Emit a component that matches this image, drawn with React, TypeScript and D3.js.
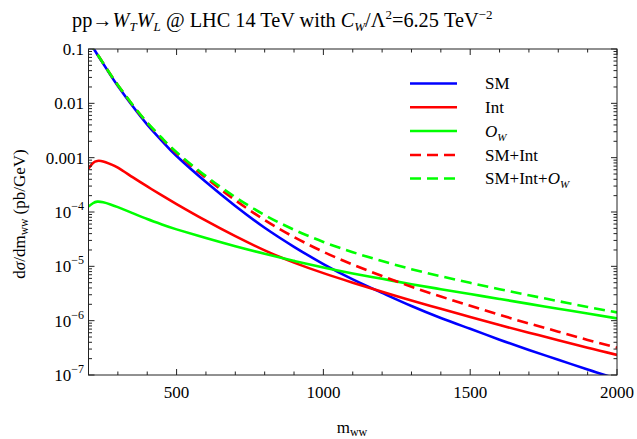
import React from "react";
import * as d3 from "d3";

const mww = [200, 215, 230, 250, 275, 300, 350, 400, 450, 500, 600, 700, 800, 900, 1000, 1100, 1200, 1300, 1400, 1500, 1600, 1700, 1800, 1900, 2000];
const smVals = [0.1445, 0.107, 0.0794, 0.0537, 0.0331, 0.0209, 0.00891, 0.00407, 0.00204, 1.07e-3, 3.55e-4, 1.29e-4, 5.13e-5, 2.29e-5, 1.1e-5, 5.75e-6, 3.24e-6, 1.86e-6, 1.12e-6, 7.08e-7, 4.47e-7, 2.88e-7, 1.91e-7, 1.26e-7, 8.5e-8];
const intVals = [6.31e-4, 7.94e-4, 8.71e-4, 8.51e-4, 7.59e-4, 6.53e-4, 4.37e-4, 2.95e-4, 2.02e-4, 1.4e-4, 6.92e-5, 3.59e-5, 1.97e-5, 1.17e-5, 7.5e-6, 5.01e-6, 3.39e-6, 2.34e-6, 1.66e-6, 1.17e-6, 8.3e-7, 6.0e-7, 4.37e-7, 3.16e-7, 2.34e-7];
const owVals = [1.26e-4, 1.45e-4, 1.55e-4, 1.51e-4, 1.38e-4, 1.23e-4, 9.55e-5, 7.41e-5, 5.89e-5, 4.79e-5, 3.31e-5, 2.34e-5, 1.7e-5, 1.26e-5, 9.55e-6, 7.41e-6, 5.89e-6, 4.68e-6, 3.8e-6, 3.09e-6, 2.51e-6, 2.04e-6, 1.66e-6, 1.35e-6, 1.1e-6];
const smIntVals = [0.1451, 0.1078, 0.0803, 0.0546, 0.0339, 0.0216, 0.00935, 0.00437, 0.00224, 1.21e-3, 4.24e-4, 1.649e-4, 7.1e-5, 3.46e-5, 1.85e-5, 1.076e-5, 6.63e-6, 4.2e-6, 2.78e-6, 1.88e-6, 1.28e-6, 8.88e-7, 6.28e-7, 4.42e-7, 3.19e-7];
const allVals = [0.1452, 0.1079, 0.0805, 0.0548, 0.034, 0.0217, 0.00945, 0.00444, 0.0023, 1.258e-3, 4.57e-4, 1.88e-4, 8.8e-5, 4.72e-5, 2.81e-5, 1.82e-5, 1.25e-5, 8.88e-6, 6.58e-6, 4.97e-6, 3.79e-6, 2.93e-6, 2.29e-6, 1.79e-6, 1.42e-6];

const xMajor = [500, 1000, 1500, 2000];
const yMajor = [0.1, 0.01, 0.001, 1e-4, 1e-5, 1e-6, 1e-7];
const yBase = ["0.1", "0.01", "0.001", "10", "10", "10", "10"];
const yExp = ["", "", "", "−4", "−5", "−6", "−7"];

const seriesNames = ["SM", "Int", "O_W", "SM+Int", "SM+Int+O_W"];
const seriesColors = ["#0000ff", "#ff0000", "#00ff00", "#ff0000", "#00ff00"];
const seriesDashed = [false, false, false, true, true];
const seriesData = [smVals, intVals, owVals, smIntVals, allVals];

const W = 637, H = 439;
const L = 88.5, R = 617, T = 49, B = 375;
const FONT = "'Liberation Serif', 'DejaVu Serif', serif";

export default function App() {
  const x = d3.scaleLinear().domain([200, 2000]).range([L, R]);
  const y = d3.scaleLog().domain([1e-7, 0.1]).range([B, T]);
  const line = d3.line<[number, number]>()
    .x((d) => x(d[0]))
    .y((d) => y(d[1]))
    .curve(d3.curveNatural);

  const xMinor: number[] = d3.range(200, 2001, 100).filter((v) => v % 500 !== 0);
  const yMinor: number[] = [];
  for (let e = -7; e < -1; e++) for (let k = 2; k < 10; k++) yMinor.push(k * Math.pow(10, e));

  const frame = "#222";
  const maj = 6, mnr = 3.5;

  const legendX0 = 410, legendX1 = 457, legendTx = 485;
  const legendY = [83.5, 107.3, 131, 155, 178.5];

  const renderLabel = (name: string) => {
    if (name === "O_W")
      return (<><tspan fontStyle="italic">O</tspan><tspan fontStyle="italic" fontSize="11" dy="4">W</tspan></>);
    if (name === "SM+Int+O_W")
      return (<>SM+Int+<tspan fontStyle="italic">O</tspan><tspan fontStyle="italic" fontSize="11" dy="4">W</tspan></>);
    return name;
  };

  return (
    <svg width={W} height={H} style={{ position: "absolute", left: 0, top: 0, background: "#fff" }} fontFamily={FONT}>
      <defs>
        <clipPath id="plotclip">
          <rect x={L} y={T} width={R - L} height={B - T} />
        </clipPath>
      </defs>
      <rect x={0} y={0} width={W} height={H} fill="#fff" />

      {/* title */}
      <text x={72} y={26.5} fontSize={20.3} fill="#000">
        pp→<tspan fontStyle="italic">W</tspan><tspan fontStyle="italic" fontSize="13" dy="4">T</tspan>
        <tspan fontStyle="italic" dy="-4">W</tspan><tspan fontStyle="italic" fontSize="13" dy="4">L</tspan>
        <tspan dy="-4"> @ LHC 14 TeV with </tspan><tspan fontStyle="italic">C</tspan><tspan fontStyle="italic" fontSize="13" dy="4">W</tspan>
        <tspan dy="-4">/Λ</tspan><tspan fontSize="13" dy="-8">2</tspan>
        <tspan dy="8">=6.25 TeV</tspan><tspan fontSize="13" dy="-8">−2</tspan>
      </text>

      {/* curves */}
      <g clipPath="url(#plotclip)">
        {seriesData.map((vals, i) => (
          <path key={i}
            d={line(mww.map((m, j) => [m, vals[j]] as [number, number])) || ""}
            fill="none" stroke={seriesColors[i]} strokeWidth={2.6}
            strokeDasharray={seriesDashed[i] ? "11,6" : undefined} />
        ))}
      </g>

      {/* frame */}
      <rect x={L} y={T} width={R - L} height={B - T} fill="none" stroke={frame} strokeWidth={1} />
      {/* x ticks */}
      {xMajor.map((v) => (
        <g key={"xM" + v}>
          <line x1={x(v)} x2={x(v)} y1={B} y2={B - maj} stroke={frame} />
          <line x1={x(v)} x2={x(v)} y1={T} y2={T + maj} stroke={frame} />
          <text x={x(v)} y={398} fontSize={17} textAnchor="middle" fill="#000">{v}</text>
        </g>
      ))}
      {xMinor.map((v) => (
        <g key={"xm" + v}>
          <line x1={x(v)} x2={x(v)} y1={B} y2={B - mnr} stroke={frame} />
          <line x1={x(v)} x2={x(v)} y1={T} y2={T + mnr} stroke={frame} />
        </g>
      ))}
      {/* y ticks */}
      {yMajor.map((v, i) => (
        <g key={"yM" + i}>
          <line x1={L} x2={L + maj} y1={y(v)} y2={y(v)} stroke={frame} />
          <line x1={R} x2={R - maj} y1={y(v)} y2={y(v)} stroke={frame} />
          <text x={84} y={y(v) + 6} fontSize={17} textAnchor="end" fill="#000">
            {yBase[i]}
            {yExp[i] ? <tspan fontSize={12} dy={-8}>{yExp[i]}</tspan> : null}
          </text>
        </g>
      ))}
      {yMinor.map((v, i) => (
        <g key={"ym" + i}>
          <line x1={L} x2={L + mnr} y1={y(v)} y2={y(v)} stroke={frame} />
          <line x1={R} x2={R - mnr} y1={y(v)} y2={y(v)} stroke={frame} />
        </g>
      ))}

      {/* axis labels */}
      <text x={352} y={433} fontSize={17} textAnchor="middle" fill="#000">
        m<tspan fontSize={12} dy={3}>ww</tspan>
      </text>
      <text transform="translate(25,214) rotate(-90)" fontSize={17} textAnchor="middle" fill="#000">
        d<tspan fontStyle="italic">σ</tspan>/dm<tspan fontSize={11.5} dy={3}>ww</tspan><tspan dy={-3}> (pb/GeV)</tspan>
      </text>

      {/* legend */}
      {seriesNames.map((n, i) => (
        <g key={"lg" + i}>
          <line x1={legendX0} x2={legendX1} y1={legendY[i]} y2={legendY[i]} stroke={seriesColors[i]} strokeWidth={2.6}
            strokeDasharray={seriesDashed[i] ? "11,6" : undefined} />
          <text x={legendTx} y={legendY[i] + 5.5} fontSize={17} fill="#000">{renderLabel(n)}</text>
        </g>
      ))}
    </svg>
  );
}
